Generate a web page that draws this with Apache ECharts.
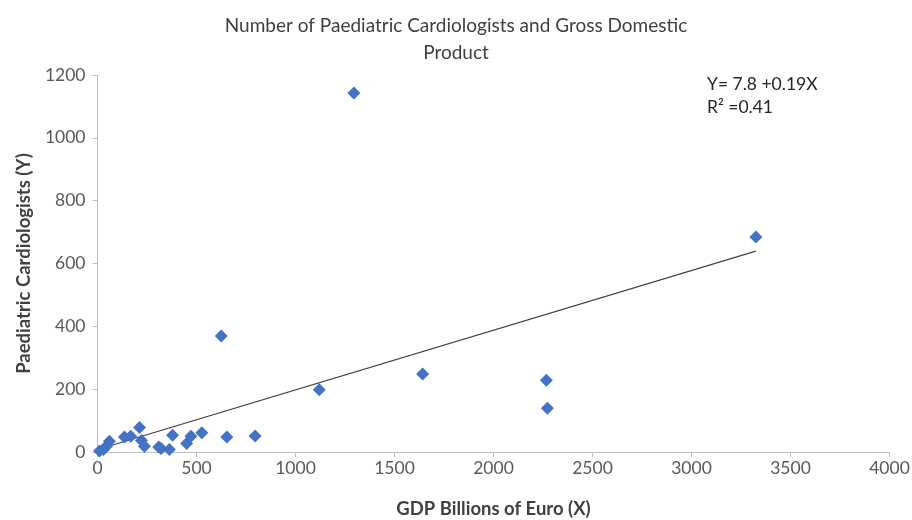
<!DOCTYPE html>
<html>
<head>
<meta charset="utf-8">
<script src="https://cdn.jsdelivr.net/npm/echarts@6/dist/echarts.min.js"></script>
<style>html,body{margin:0;padding:0;background:#fff}#c{width:912px;height:520px}</style>
</head>
<body>
<div id="c"></div>
<script>
var gdp = [10, 30, 45, 60, 136, 168, 212, 222, 237, 309, 321, 363, 379, 450, 472, 527, 625, 653, 796, 1120, 1295, 1642, 2267, 2272, 3325];
var cardiologists = [3, 8, 18, 34, 48, 50, 78, 37, 18, 16, 11, 8, 53, 27, 50, 61, 369, 48, 51, 198, 1143, 248, 228, 139, 684];
var xTicks = [0, 500, 1000, 1500, 2000, 2500, 3000, 3500, 4000];
var yTicks = [0, 200, 400, 600, 800, 1000, 1200];
var intercept = 7.8, slope = 0.19;

var pts = gdp.map(function (x, i) { return [x, cardiologists[i]]; });
var xmin = Math.min.apply(null, gdp), xmax = Math.max.apply(null, gdp);
var trend = [[xmin, intercept + slope * xmin], [xmax, intercept + slope * xmax]];

var font = 'Lato, "Open Sans", sans-serif';
var chart = echarts.init(document.getElementById('c'));
chart.setOption({
  animation: false,
  title: {
    text: 'Number of Paediatric Cardiologists and Gross Domestic\nProduct',
    left: 'center', top: 7,
    textStyle: { fontFamily: font, fontSize: 19, fontWeight: 'normal', color: '#404040', lineHeight: 27 }
  },
  grid: { left: 97.5, right: 22.5, top: 75, bottom: 68, containLabel: false, outerBoundsMode: 'none' },
  xAxis: {
    type: 'value', min: xTicks[0], max: xTicks[xTicks.length - 1], interval: 500,
    name: 'GDP Billions of Euro (X)', nameLocation: 'middle', nameGap: 48,
    nameTextStyle: { fontFamily: font, fontSize: 18.5, fontWeight: 'bold', color: '#404040' },
    axisLine: { show: true, lineStyle: { color: '#bfbfbf', width: 1 } },
    axisTick: { show: true, length: 5, lineStyle: { color: '#bfbfbf' } },
    axisLabel: { fontFamily: font, fontSize: 17.5, color: '#595959', margin: 7, formatter: function (v) { return String(v); } },
    splitLine: { show: false }
  },
  yAxis: {
    type: 'value', min: yTicks[0], max: yTicks[yTicks.length - 1], interval: 200,
    name: 'Paediatric Cardiologists (Y)', nameLocation: 'middle', nameGap: 58, nameRotate: 90,
    nameTextStyle: { fontFamily: font, fontSize: 18.5, fontWeight: 'bold', color: '#404040' },
    axisLine: { show: true, lineStyle: { color: '#bfbfbf', width: 1 } },
    axisTick: { show: true, length: 5, lineStyle: { color: '#bfbfbf' } },
    axisLabel: { fontFamily: font, fontSize: 17.5, color: '#595959', margin: 12, formatter: function (v) { return String(v); } },
    splitLine: { show: false }
  },
  series: [
    {
      type: 'scatter', data: pts, symbol: 'diamond', symbolSize: 13,
      itemStyle: { color: '#4472c4', opacity: 1 }, z: 3
    },
    {
      type: 'line', data: trend, symbol: 'none',
      lineStyle: { color: '#404040', width: 1.2 }, z: 2
    }
  ],
  graphic: [
    { type: 'text', left: 707, top: 75, style: { text: 'Y= 7.8 +0.19X', fontFamily: font, fontSize: 17.5, fill: '#262626' } },
    { type: 'text', left: 707, top: 98, style: { text: 'R\u00b2 =0.41', fontFamily: font, fontSize: 17.5, fill: '#262626' } }
  ]
});
</script>
</body>
</html>
